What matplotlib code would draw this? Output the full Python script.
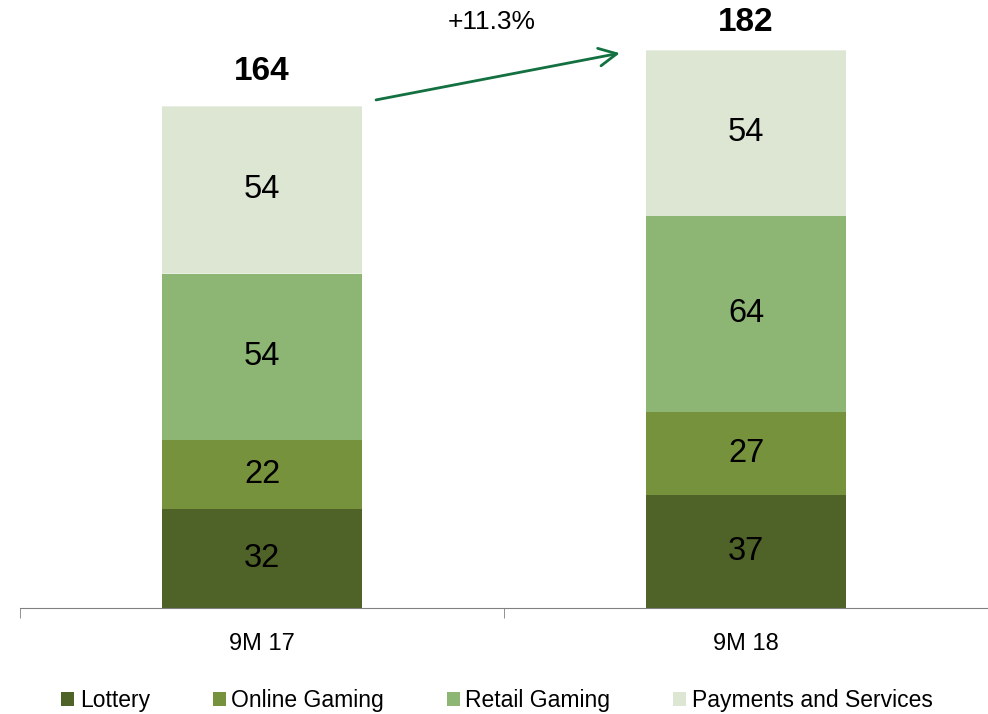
import numpy as np
import matplotlib.pyplot as plt
from matplotlib.patches import Patch

plt.rcParams['font.family'] = ['Liberation Sans', 'DejaVu Sans']

periods = ['9M 17', '9M 18']
segments = ['Lottery', 'Online Gaming', 'Retail Gaming', 'Payments and Services']
values = {
    'Lottery': [32.4, 37.0],
    'Online Gaming': [22.4, 27.0],
    'Retail Gaming': [54.4, 64.0],
    'Payments and Services': [54.4, 54.0],
}
totals = [164, 182]
growth = '+11.3%'
colors = ['#4f6228', '#76923c', '#8db573', '#dde6d3']

fig = plt.figure(figsize=(9.88, 7.14), dpi=100)
ax = fig.add_axes([20 / 988, 106 / 714, 968 / 988, 608 / 714])

x = np.arange(len(periods))
width = 0.413
bottom = np.zeros(len(periods))
for seg, col in zip(segments, colors):
    v = np.array(values[seg])
    ax.bar(x, v, width, bottom=bottom, color=col, edgecolor='none', label=seg)
    for xi, b, vi in zip(x, bottom, v):
        ax.text(xi, b + vi / 2, f'{round(vi):d}', ha='center', va='center',
                fontsize=23.5, color='black')
    bottom += v
    # thin light separator between segments
    ax.bar(x, 0.3, width, bottom=bottom - 0.15, color='#e8eee0', edgecolor='none')

ymax = 608 / 3.065
for xi, t, b in zip(x, totals, bottom):
    ax.text(xi, min(b + 11.5, ymax - 7.2), str(t), ha='center', va='center',
            fontsize=24, fontweight='bold', color='black')

# growth arrow
ax.annotate('', xy=(0.745, bottom[1] - 0.8), xytext=(0.23, bottom[0] + 2),
            arrowprops=dict(arrowstyle='->', color='#137040', lw=2,
                            mutation_scale=32))
ax.text(0.474, ymax - 7.2, growth, ha='center', va='center', fontsize=19)

ax.set_xlim(-0.5, 1.5)
ax.set_ylim(0, ymax)
for s in ['top', 'right', 'left']:
    ax.spines[s].set_visible(False)
ax.spines['bottom'].set_color('#808080')
ax.set_yticks([])
ax.set_xticks(x)
ax.set_xticklabels(periods, fontsize=17)
ax.tick_params(axis='x', which='major', length=0, pad=18)
ax.set_xticks([-0.5, 0.5, 1.5], minor=True)
ax.tick_params(axis='x', which='minor', length=7, color='#808080')

handles = [Patch(facecolor=c, edgecolor='none') for c in colors]
fig.legend(handles, segments, loc='center', bbox_to_anchor=(497 / 988, 1 - 701 / 714),
           ncol=4, frameon=False, fontsize=16.5, handlelength=0.55, handleheight=0.55,
           handletextpad=0.25, columnspacing=2.75)

fig.savefig('out.png', dpi=100)
